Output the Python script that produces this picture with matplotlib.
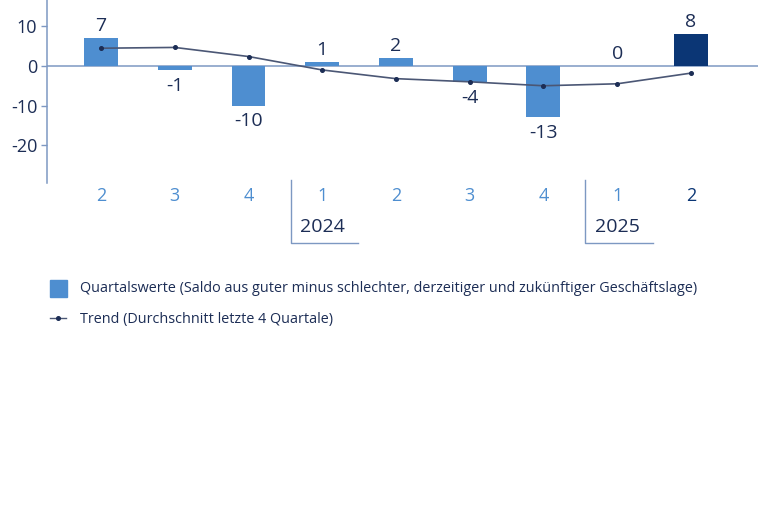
import matplotlib
matplotlib.use("Agg")
import matplotlib.pyplot as plt
from matplotlib.patches import Rectangle
from matplotlib.lines import Line2D
import matplotlib.transforms as mtransforms

plt.rcParams['font.family'] = ['Open Sans', 'DejaVu Sans']

# Quarterly business climate balance (Saldo) and 4-quarter trend
quarters = ["2", "3", "4", "1", "2", "3", "4", "1", "2"]
years = {"2024": 3, "2025": 7}          # year label -> index of its first quarter
values = [7, -1, -10, 1, 2, -4, -13, 0, 8]
trend = [4.5, 4.7, 2.4, -1.0, -3.2, -4.0, -5.0, -4.5, -1.8]
yticks = [10, 0, -10, -20]

LIGHT = "#4e8ed0"
DARK = "#0b3675"
NAVY = "#1c2d55"
AXIS = "#7d98c2"
TREND = "#4b5775"

fig = plt.figure(figsize=(7.68, 5.12), dpi=100)
ax = fig.add_axes([47 / 768, 1 - 183 / 512, 711 / 768, 183 / 512])

x = list(range(len(values)))
colors = [LIGHT] * (len(values) - 1) + [DARK]
ax.bar(x, values, width=0.46, color=colors, zorder=2)
ax.axhline(0, color=AXIS, lw=1.1, zorder=1)
ax.plot(x, trend, color=TREND, lw=1.2, marker="o", markersize=2.6,
        markerfacecolor=NAVY, markeredgecolor=NAVY, zorder=3)

for xi, v in zip(x, values):
    if v >= 0:
        ax.annotate(str(v), (xi, v), xytext=(0, 2.5), textcoords="offset points",
                    ha="center", va="bottom", fontsize=14, color=NAVY)
    else:
        ax.annotate(str(v), (xi, v), xytext=(0, -5), textcoords="offset points",
                    ha="center", va="top", fontsize=14, color=NAVY)

ax.set_xlim(-0.733, 8.91)
ax.set_ylim(-29.6, 16.7)
ax.set_yticks(yticks)
ax.set_yticklabels([str(t) for t in yticks], fontsize=13, color=NAVY)
ax.tick_params(axis="y", length=4, width=1, color=AXIS, pad=3)

ax.set_xticks(x)
ax.set_xticklabels(quarters, fontsize=13)
ax.tick_params(axis="x", length=0, pad=3)
for lbl, xi in zip(ax.get_xticklabels(), x):
    lbl.set_color(DARK if xi == len(values) - 1 else LIGHT)

for side in ("top", "right", "bottom"):
    ax.spines[side].set_visible(False)
ax.spines["left"].set_color(AXIS)
ax.spines["left"].set_linewidth(1.1)

# Year brackets below the quarter labels
trans = mtransforms.blended_transform_factory(ax.transData, fig.transFigure)
y_top, y_bot = 1 - 180 / 512, 1 - 243 / 512
for year, idx in years.items():
    xl = idx - 0.43
    ax.add_line(Line2D([xl, xl, xl + 0.91], [y_top, y_bot, y_bot],
                       transform=trans, color=AXIS, lw=1.0, clip_on=False))
    ax.text(idx, 1 - 227 / 512, year, transform=trans, ha="center",
            va="center", fontsize=14, color=NAVY)

# Legend
fig.add_artist(Rectangle((50 / 768, 1 - 297 / 512), 17 / 768, 17 / 512,
                         transform=fig.transFigure, color=LIGHT))
fig.text(80 / 768, 1 - 289 / 512,
         "Quartalswerte (Saldo aus guter minus schlechter, derzeitiger und zukünftiger Geschäftslage)",
         ha="left", va="center", fontsize=10.4, color=NAVY)
fig.add_artist(Line2D([50 / 768, 66 / 768], [1 - 318 / 512] * 2,
                      transform=fig.transFigure, color=TREND, lw=1.0))
fig.add_artist(Line2D([58 / 768], [1 - 318 / 512], transform=fig.transFigure,
                      marker="o", markersize=2.6, color=NAVY, lw=0))
fig.text(80 / 768, 1 - 319 / 512, "Trend (Durchschnitt letzte 4 Quartale)",
         ha="left", va="center", fontsize=10.4, color=NAVY)

fig.savefig("out.png", dpi=100)
